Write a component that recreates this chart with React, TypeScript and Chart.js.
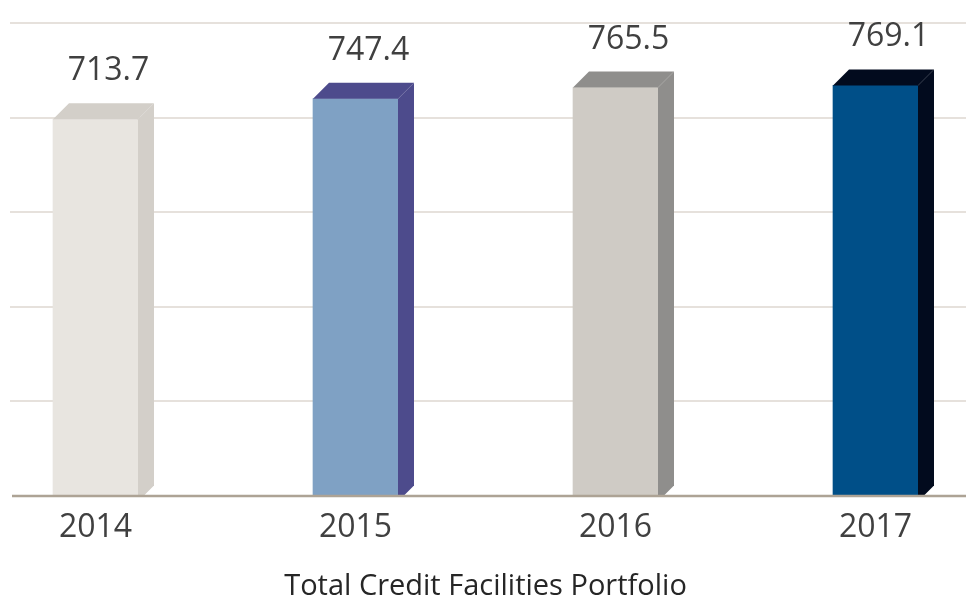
import React, { useEffect, useRef } from "react";
import { Chart, registerables } from "chart.js";

Chart.register(...registerables);

const categories = ["2014", "2015", "2016", "2017"];
const values = [713.7, 747.4, 765.5, 769.1];
const valueLabels = ["713.7", "747.4", "765.5", "769.1"];
const frontColors = ["#E8E5E0", "#7FA1C4", "#CFCBC5", "#004F88"];
const depthColors = ["#D3CFC9", "#4D4B8C", "#8F8E8C", "#020B1E"];
const titleText = "Total Credit Facilities Portfolio";

const Y_MIN = 99;
const Y_MAX = 871;
const GRID_COUNT = 5;

const FONT = "'Open Sans', sans-serif";
const DEPTH = 16;

const bar3dPlugin = {
  id: "bar3d",
  beforeDatasetsDraw(chart: any) {
    const { ctx, scales } = chart;
    const y = scales.y;
    ctx.save();
    ctx.strokeStyle = "#E6E1DC";
    ctx.lineWidth = 2;
    for (let i = 1; i <= GRID_COUNT; i++) {
      const v = Y_MIN + (i * (Y_MAX - Y_MIN)) / GRID_COUNT;
      const py = Math.round(y.getPixelForValue(v));
      ctx.beginPath();
      ctx.moveTo(10, py);
      ctx.lineTo(chart.width, py);
      ctx.stroke();
    }
    ctx.restore();
  },
  afterDatasetsDraw(chart: any) {
    const { ctx, scales } = chart;
    const y = scales.y;
    const meta = chart.getDatasetMeta(0);
    const d = DEPTH;
    ctx.save();
    meta.data.forEach((bar: any, i: number) => {
      const p = bar.getProps(["x", "y", "base", "width"], true);
      const x1 = p.x - p.width / 2;
      const x2 = p.x + p.width / 2;
      const top = p.y;
      const base = p.base;
      ctx.fillStyle = depthColors[i];
      // top face
      ctx.beginPath();
      ctx.moveTo(x1, top);
      ctx.lineTo(x1 + d, top - d);
      ctx.lineTo(x2 + d, top - d);
      ctx.lineTo(x2, top);
      ctx.closePath();
      ctx.fill();
      // side face
      ctx.beginPath();
      ctx.moveTo(x2, top);
      ctx.lineTo(x2 + d, top - d);
      ctx.lineTo(x2 + d, base - 10);
      ctx.lineTo(x2 + 6, base);
      ctx.lineTo(x2, base);
      ctx.closePath();
      ctx.fill();
    });
    // baseline
    const by = y.getPixelForValue(Y_MIN) + 0.5;
    ctx.strokeStyle = "#ADA395";
    ctx.lineWidth = 2.5;
    ctx.beginPath();
    ctx.moveTo(12, by);
    ctx.lineTo(chart.width, by);
    ctx.stroke();
    // value labels
    ctx.font = `32px ${FONT}`;
    ctx.fillStyle = "#404040";
    ctx.textAlign = "center";
    ctx.textBaseline = "alphabetic";
    meta.data.forEach((bar: any, i: number) => {
      const p = bar.getProps(["x", "y"], true);
      ctx.fillText(valueLabels[i], p.x + 13, p.y - 39);
    });
    ctx.restore();
  },
};

export default function App() {
  const canvasRef = useRef<HTMLCanvasElement | null>(null);

  useEffect(() => {
    if (!canvasRef.current) return;
    const chart = new Chart(canvasRef.current, {
      type: "bar",
      data: {
        labels: categories,
        datasets: [
          {
            data: values,
            base: Y_MIN,
            backgroundColor: frontColors,
            borderWidth: 0,
            barThickness: 85,
            clip: false as any,
          } as any,
        ],
      },
      options: {
        animation: false,
        responsive: true,
        maintainAspectRatio: false,
        layout: { padding: { left: 95.5, right: 90.5, top: 23, bottom: 0 } },
        plugins: {
          legend: { display: false },
          tooltip: { enabled: false },
          title: {
            display: true,
            position: "bottom",
            text: titleText,
            color: "#262626",
            font: { family: FONT, size: 29, weight: "normal", lineHeight: 1.0 },
            padding: { top: 12, bottom: 0 },
          },
        },
        scales: {
          x: {
            offset: false,
            grid: { display: false, drawTicks: false },
            border: { display: false },
            ticks: {
              color: "#404040",
              font: { family: FONT, size: 32 },
              padding: 13,
              maxRotation: 0,
              autoSkip: false,
            },
          },
          y: { display: false, min: Y_MIN, max: Y_MAX },
        },
      },
      plugins: [bar3dPlugin],
    });
    return () => chart.destroy();
  }, []);

  return (
    <div style={{ position: "fixed", left: 0, top: 0, width: 966, height: 601, background: "#fff" }}>
      <canvas ref={canvasRef} />
    </div>
  );
}
